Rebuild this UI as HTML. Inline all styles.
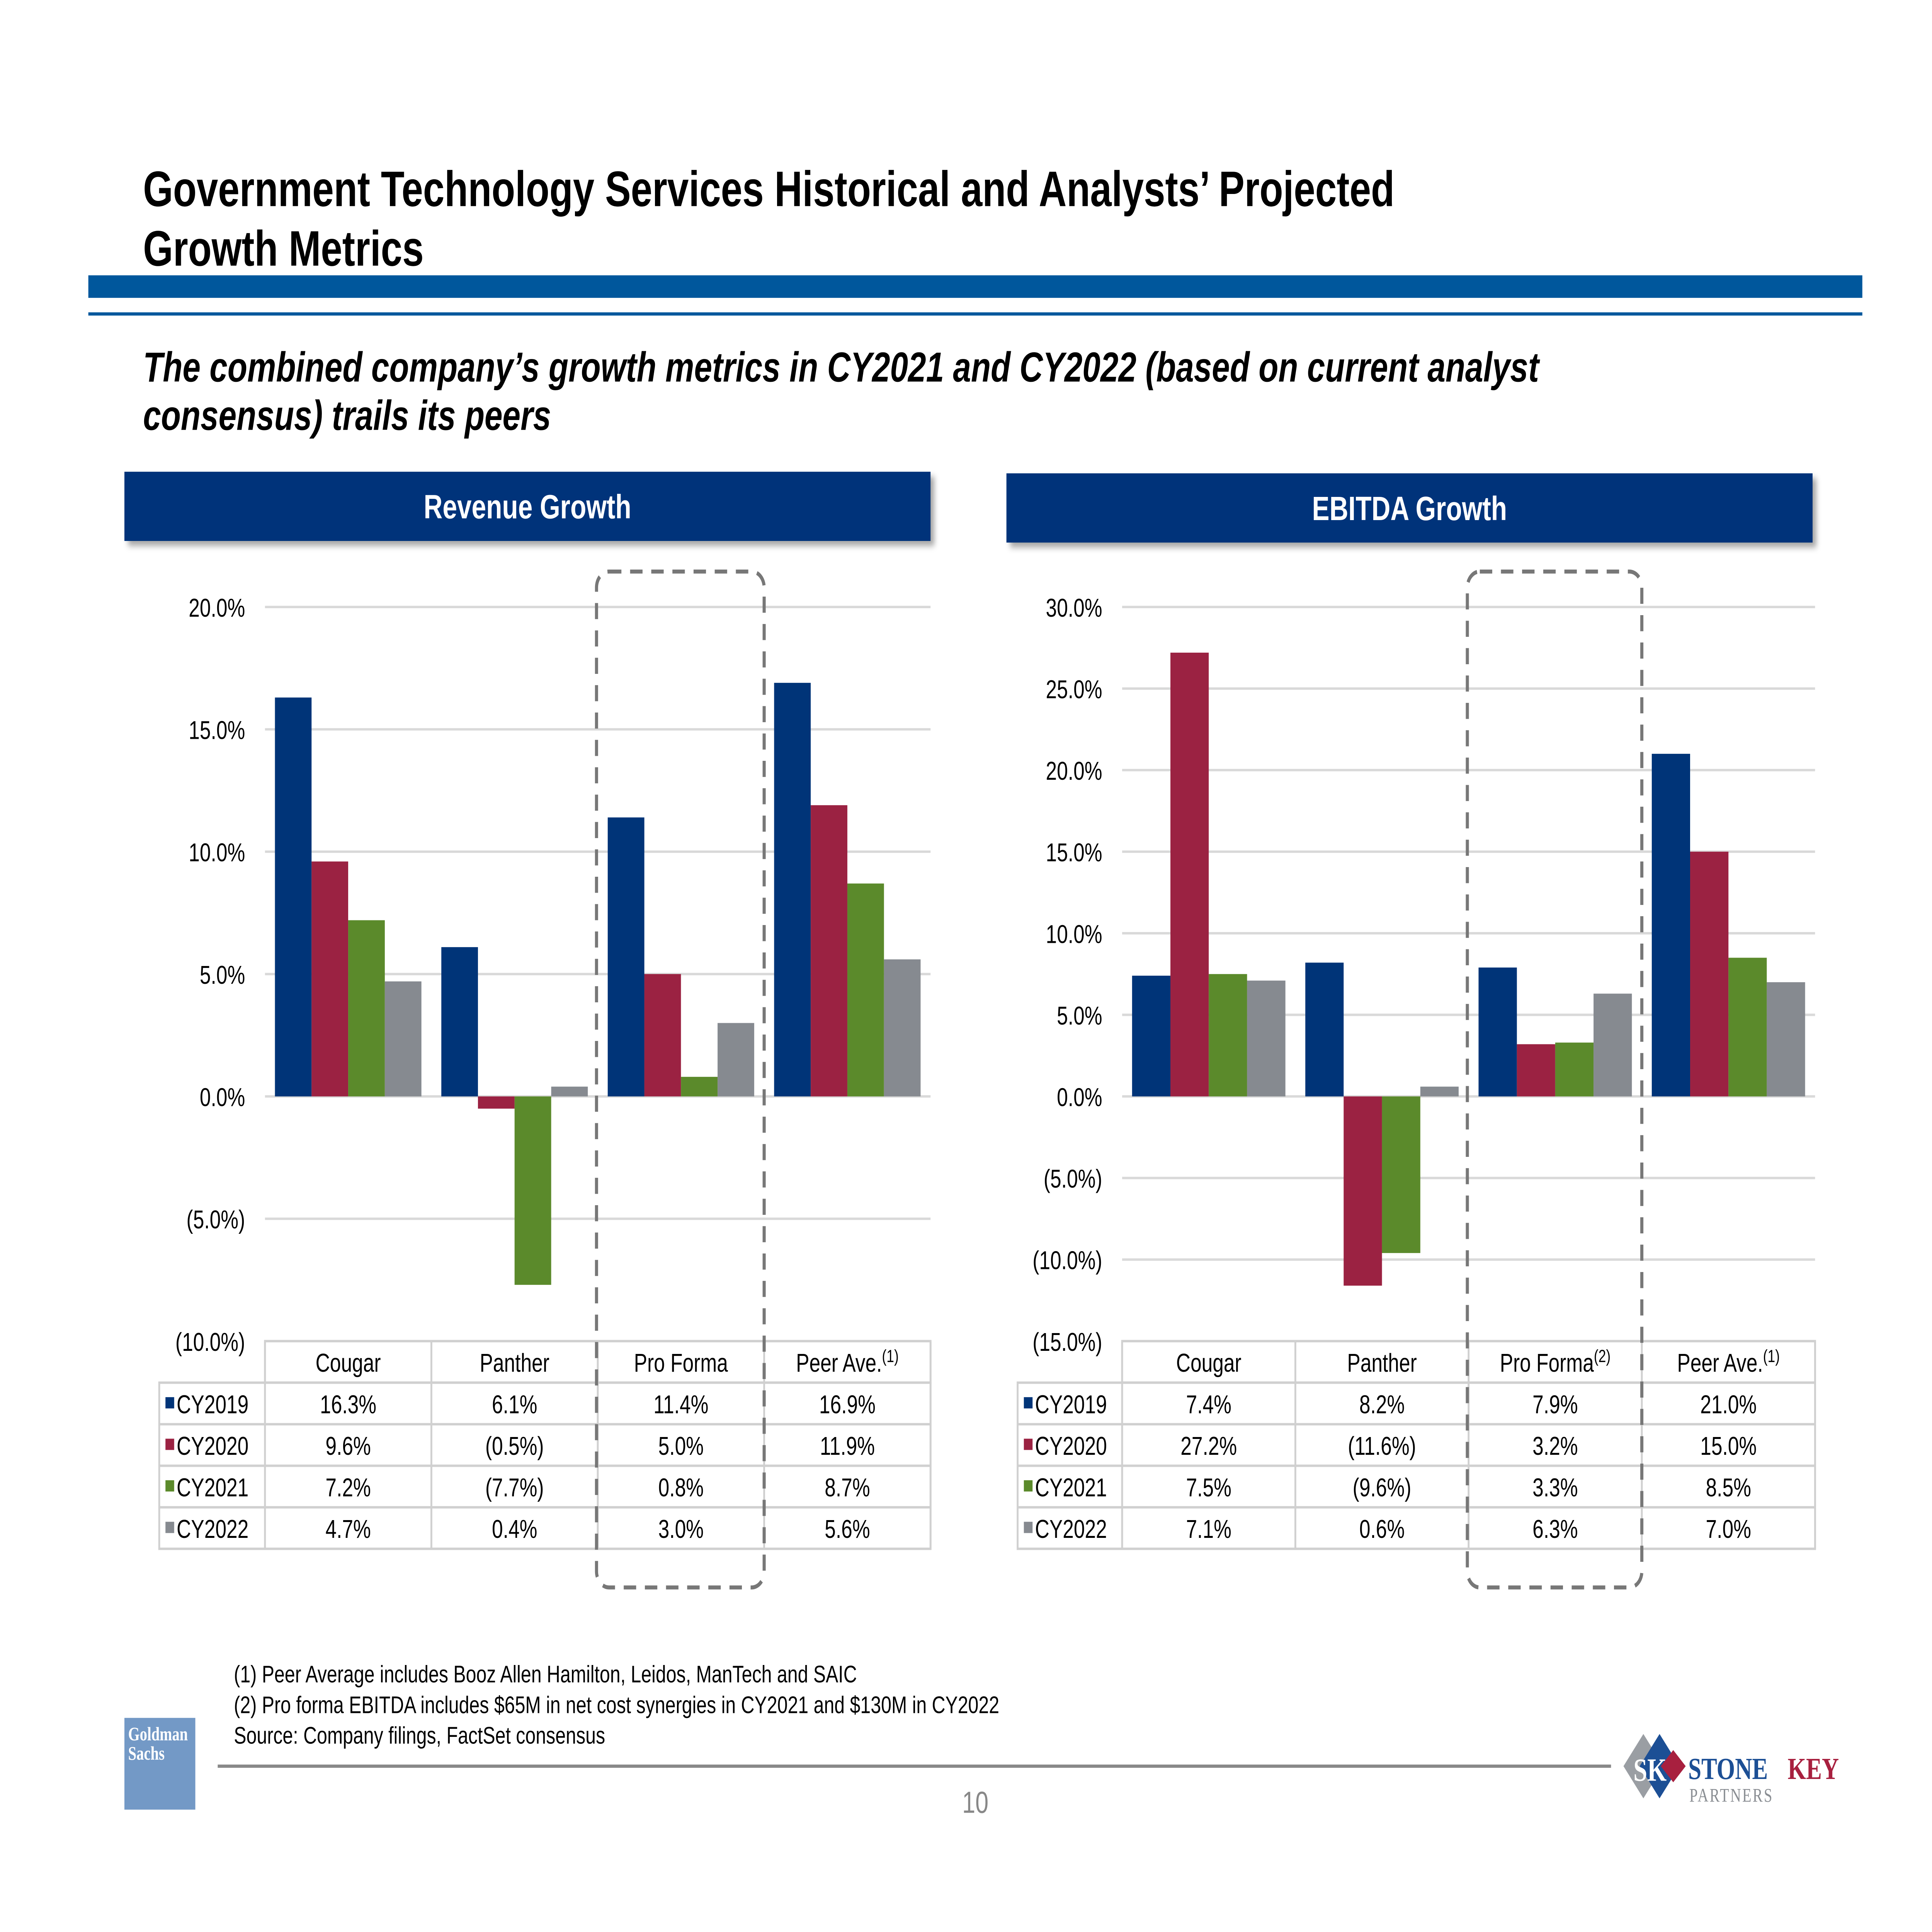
<!DOCTYPE html>
<html><head><meta charset="utf-8"><style>
html,body{margin:0;padding:0;background:#fff;width:100%;height:100%;overflow:hidden;}
svg{display:block;width:100vw;height:100vh;font-family:"Liberation Sans",Verdana,sans-serif;}
</style></head><body>
<svg id="s" viewBox="0 0 1553 1200" preserveAspectRatio="none" xmlns="http://www.w3.org/2000/svg">
<text x="115" y="128" font-size="31" font-weight="bold" fill="#000">Government Technology Services Historical and Analysts’ Projected</text>
<text x="115" y="165" font-size="31" font-weight="bold" fill="#000">Growth Metrics</text>
<rect x="71" y="171" width="1426" height="14" fill="#00579c"/>
<rect x="71" y="194" width="1426" height="2" fill="#00579c"/>
<text x="115" y="237" font-size="26" font-weight="bold" font-style="italic" fill="#000">The combined company’s growth metrics in CY2021 and CY2022 (based on current analyst</text>
<text x="115" y="267" font-size="26" font-weight="bold" font-style="italic" fill="#000">consensus) trails its peers</text>
<g id="charts"></g>
<text x="188" y="1045" font-size="15" fill="#000">(1)  Peer Average includes Booz Allen Hamilton, Leidos, ManTech and SAIC</text>
<text x="188" y="1064" font-size="15" fill="#000">(2)  Pro forma EBITDA includes $65M in net cost synergies in CY2021 and $130M in CY2022</text>
<text x="188" y="1083" font-size="15" fill="#000">Source: Company filings, FactSet consensus</text>
<rect x="175" y="1096" width="1120" height="2" fill="#888"/>
<text x="784" y="1126" font-size="19" fill="#888" text-anchor="middle">10</text>
<g>
<rect x="100" y="1067" width="57" height="57" fill="#7399c6"/>
<text x="103" y="1081" font-size="12" font-family="Liberation Serif,serif" font-weight="bold" fill="#fff">Goldman</text>
<text x="103" y="1093" font-size="12" font-family="Liberation Serif,serif" font-weight="bold" fill="#fff">Sachs</text>
</g>
<g>
<polygon points="1321,1077 1337,1097 1321,1117 1305,1097" fill="#9a9ea3"/>
<polygon points="1334,1077 1350,1097 1334,1117 1318,1097" fill="#1c4f95"/>
<polygon points="1345,1087 1355,1097 1345,1107 1335,1097" fill="#a8203f"/>
<text x="1313" y="1106" font-size="20" font-family="Liberation Serif,serif" font-weight="bold" fill="#fff">SK</text>
<text x="1357" y="1105" font-size="19" font-family="Liberation Serif,serif" font-weight="bold" fill="#1c4f95">STONE</text>
<text x="1437" y="1105" font-size="19" font-family="Liberation Serif,serif" font-weight="bold" fill="#a8203f">KEY</text>
<text x="1358" y="1119" font-size="12" font-family="Liberation Serif,serif" fill="#8a8e93" letter-spacing="1">PARTNERS</text>
</g>
</svg>
<script>
const categories = ["Cougar","Panther","Pro Forma","Peer Ave."];
const seriesNames = ["CY2019","CY2020","CY2021","CY2022"];
const revCY2019 = [16.3, 6.1, 11.4, 16.9];
const revCY2020 = [9.6, -0.5, 5.0, 11.9];
const revCY2021 = [7.2, -7.7, 0.8, 8.7];
const revCY2022 = [4.7, 0.4, 3.0, 5.6];
const ebCY2019 = [7.4, 8.2, 7.9, 21.0];
const ebCY2020 = [27.2, -11.6, 3.2, 15.0];
const ebCY2021 = [7.5, -9.6, 3.3, 8.5];
const ebCY2022 = [7.1, 0.6, 6.3, 7.0];
const revTicks = [20, 15, 10, 5, 0, -5, -10];
const ebTicks = [30, 25, 20, 15, 10, 5, 0, -5, -10, -15];
const colors = ["#003478","#9b2242","#5b8a2b","#868a90"];
const NS = "http://www.w3.org/2000/svg";
const root = document.getElementById("charts");
function mk(tag, attrs, parent){const e=document.createElementNS(NS,tag);for(const k in attrs)e.setAttribute(k,attrs[k]);(parent||root).appendChild(e);return e;}
function fmt(v){const s=Math.abs(v).toFixed(1)+"%";return v<0?"("+s+")":s;}
function chart(cfg){
  const g=mk("g",{});
  
  
  const hdr=mk("rect",{x:cfg.hx,y:cfg.hy,width:648,height:43,fill:"#00337a",style:"filter:drop-shadow(3px 3px 2px rgba(0,0,0,0.35))"},g);
  
  
  const ht=mk("text",{x:cfg.hx+324,y:cfg.hy+29,"font-size":21,"font-weight":"bold",fill:"#fff","text-anchor":"middle"},g);
  ht.textContent=cfg.title;
  
  
  const y=v=>cfg.y0+(cfg.ymax-v)*(cfg.y1-cfg.y0)/(cfg.ymax-cfg.ymin);
  cfg.ticks.forEach(t=>{
    if(t!==cfg.ymin){const l=mk("line",{x1:cfg.px0,x2:cfg.px1,y1:y(t),y2:y(t),stroke:"#d9d9d9","stroke-width":1.5},g);
    
    }
    const tx=mk("text",{x:cfg.px0-16,y:y(t)+6,"font-size":16,"text-anchor":"end",fill:"#000"},g);
    tx.textContent=fmt(t);
    
    
  });
  const gw=(cfg.px1-cfg.px0)/categories.length;
  const bw=(gw-16)/4;
  cfg.series.forEach((arr,si)=>{
    arr.forEach((v,ci)=>{
      const x=cfg.px0+ci*gw+8+si*bw;
      const r=mk("rect",{x:x,y:Math.min(y(v),y(0)),width:bw,height:Math.abs(y(v)-y(0)),fill:colors[si]},g);
      
      
    });
  });
  const tb=mk("g",{},g);
  
  
  const top=cfg.y1, rh=25.8;
  const L=cfg.tx0;
  mk("rect",{x:cfg.px0,y:top,width:cfg.px1-cfg.px0,height:rh,fill:"none",stroke:"#d0d0d0","stroke-width":1.5},tb);
  mk("rect",{x:L,y:top+rh,width:cfg.px1-L,height:rh*4,fill:"none",stroke:"#d0d0d0","stroke-width":1.5},tb);
  for(let i=1;i<4;i++)mk("line",{x1:L,x2:cfg.px1,y1:top+rh*(i+1),y2:top+rh*(i+1),stroke:"#d0d0d0","stroke-width":1.5},tb);
  for(let c=0;c<=categories.length;c++)mk("line",{x1:cfg.px0+c*gw,x2:cfg.px0+c*gw,y1:top,y2:top+rh*5,stroke:"#d0d0d0","stroke-width":1.5},tb);
  categories.forEach((c,ci)=>{
    const t=mk("text",{x:cfg.px0+ci*gw+gw/2,y:top+19,"font-size":16,"text-anchor":"middle"},tb);
    t.textContent=c;
    if(cfg.sup[ci]){const s=mk("tspan",{"font-size":11,dy:-6},t);s.textContent=cfg.sup[ci];}
    
    
  });
  seriesNames.forEach((n,si)=>{
    const ry=top+rh*(si+1);
    mk("rect",{x:L+5,y:ry+9,width:7,height:7,fill:colors[si]},tb);
    const t=mk("text",{x:L+14,y:ry+19,"font-size":16},tb);
    t.textContent=n;
    
    
    cfg.series[si].forEach((v,ci)=>{
      const c=mk("text",{x:cfg.px0+ci*gw+gw/2,y:ry+19,"font-size":16,"text-anchor":"middle"},tb);
      c.textContent=fmt(v);
      
      
    });
  });
  const d=mk("rect",{x:cfg.px0+2*gw-1,y:355,width:gw+1,height:631,rx:10,fill:"none",stroke:"#777","stroke-width":2.5,"stroke-dasharray":"10,7"},g);
  
  
}
chart({name:"revenue-growth-chart",title:"Revenue Growth",hx:100,hy:293,px0:213,px1:748,tx0:128,y0:377,y1:833,ymax:20,ymin:-10,ticks:revTicks,series:[revCY2019,revCY2020,revCY2021,revCY2022],sup:["","","","(1)"]});
chart({name:"ebitda-growth-chart",title:"EBITDA Growth",hx:809,hy:294,px0:902,px1:1459,tx0:818,y0:377,y1:833,ymax:30,ymin:-15,ticks:ebTicks,series:[ebCY2019,ebCY2020,ebCY2021,ebCY2022],sup:["","","(2)","(1)"]});
</script>
</body></html>
